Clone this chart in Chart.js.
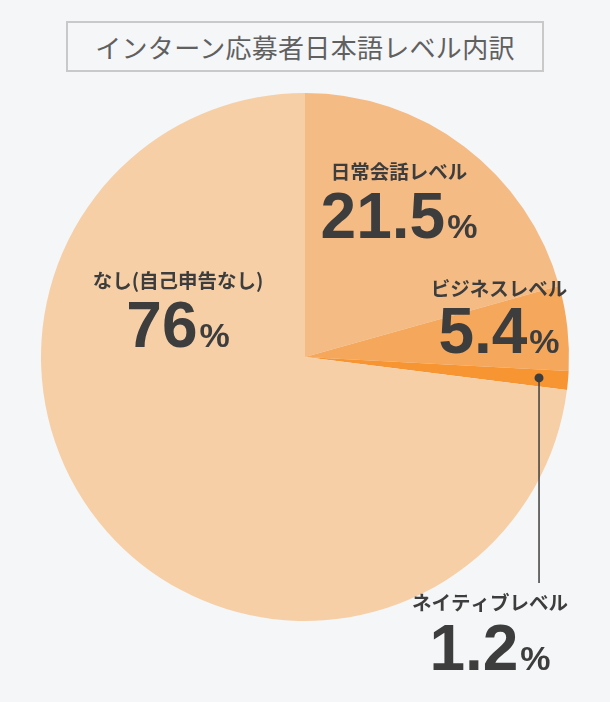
<!DOCTYPE html>
<html>
<head>
<meta charset="utf-8">
<script src="https://cdn.jsdelivr.net/npm/chart.js@4/dist/chart.umd.min.js"></script>
<style>
  html, body { margin: 0; padding: 0; background: #f5f6f8; }
  #wrap { position: relative; width: 610px; height: 702px; }
  #title {
    position: absolute; left: 66px; top: 21px; width: 474px; height: 47px;
    border: 2px solid #c9c9c9; box-sizing: content-box;
    font-family: "Noto Sans CJK JP", sans-serif; font-size: 26px; color: #606060;
    display: flex; align-items: center; justify-content: center; letter-spacing: 0.3px;
  }
  canvas { position: absolute; left: 0; top: 0; }
</style>
</head>
<body>
<div id="wrap">
  <div id="title">インターン応募者日本語レベル内訳</div>
  <canvas id="myChart" width="610" height="702"></canvas>
</div>
<script>
// slices, clockwise from 12 o'clock
const categories = ['日常会話レベル', 'ビジネスレベル', 'ネイティブレベル', 'なし(自己申告なし)'];
const percents = [21.5, 5.4, 1.2, 76];
const sliceColors = ['#f5bb84', '#f5a75b', '#f69532', '#f6cfa7'];

// where each label sits (text centre x, category centre y, number baseline y)
const labelPos = [
  { x: 399, y: 172, base: 238 },
  { x: 499, y: 289, base: 353 },
  { x: 490, y: 603, base: 670 },
  { x: 178, y: 281, base: 347 }
];

const labelPlugin = {
  id: 'sliceLabels',
  afterDraw(chart) {
    const c = chart.ctx;
    const meta = chart.getDatasetMeta(0);

    // leader line for the thin native slice
    const arc = meta.data[2];
    const p = arc.getProps(['x', 'y', 'startAngle', 'endAngle', 'outerRadius'], true);
    const mid = (p.startAngle + p.endAngle) / 2;
    const dx = p.x + Math.cos(mid) * p.outerRadius * 0.89;
    const dy = p.y + Math.sin(mid) * p.outerRadius * 0.89;
    c.save();
    c.strokeStyle = '#3d3d3d';
    c.lineWidth = 1.5;
    c.beginPath();
    c.moveTo(dx, dy);
    c.lineTo(dx, 583);
    c.stroke();
    c.fillStyle = '#3d3d3d';
    c.beginPath();
    c.arc(dx, dy, 4.5, 0, Math.PI * 2);
    c.fill();

    categories.forEach((name, i) => {
      const pos = labelPos[i];
      c.fillStyle = '#3d3d3d';
      c.textAlign = 'center';
      c.textBaseline = 'middle';
      c.font = 'bold 19.5px "Noto Sans CJK JP", sans-serif';
      c.fillText(name, pos.x, pos.y);

      const num = String(percents[i]);
      c.textBaseline = 'alphabetic';
      c.textAlign = 'left';
      c.font = 'bold 64px "Liberation Sans", Arial, sans-serif';
      const wNum = c.measureText(num).width;
      c.font = 'bold 34px "Liberation Sans", Arial, sans-serif';
      const wPct = c.measureText('%').width;
      const gap = 2;
      const x0 = pos.x - (wNum + gap + wPct) / 2;
      c.font = 'bold 64px "Liberation Sans", Arial, sans-serif';
      c.fillText(num, x0, pos.base);
      c.font = 'bold 34px "Liberation Sans", Arial, sans-serif';
      c.fillText('%', x0 + wNum + gap, pos.base);
    });
    c.restore();
  }
};

const ctx = document.getElementById('myChart');

var chart = new Chart(ctx, {
  type: 'pie',
  data: {
    labels: categories,
    datasets: [{
      data: percents,
      backgroundColor: sliceColors,
      borderWidth: 0
    }]
  },
  options: {
    responsive: false,
    animation: false,
    layout: { padding: { left: 41, right: 41, top: 93, bottom: 81 } },
    plugins: {
      legend: { display: false },
      tooltip: { enabled: false }
    }
  },
  plugins: [labelPlugin]
});
</script>
</body>
</html>
